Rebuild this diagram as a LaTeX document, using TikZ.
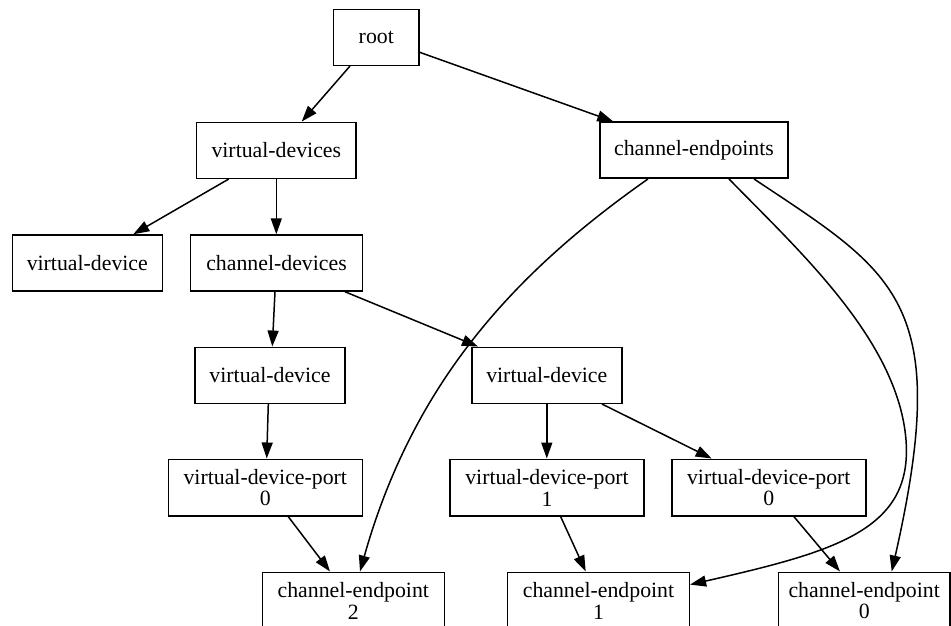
\documentclass[tikz,border=0pt]{standalone}
\usepackage{fontspec}
\setmainfont{Liberation Serif}
\usetikzlibrary{arrows.meta}
\begin{document}
\begin{tikzpicture}[x=1pt,y=-1pt,
  box/.style={draw, line width=1.5pt, rectangle, minimum height=56pt, inner sep=0pt, align=center, font=\fontsize{21.8}{21.8}\selectfont},
  box2/.style={box, minimum height=56.7pt},
  edge/.style={line width=1.5pt, -{Triangle[length=16pt,width=11pt]}}]
\useasboundingbox (0,0) rectangle (951,626);
% nodes
\node[box, minimum width=85.3pt]  (root) at (376.3,37.3)  {root};
\node[box, minimum width=159.3pt] (vds)  at (276.3,150.3) {virtual-devices};
\node[box, minimum width=188pt]   (cep)  at (694,150.2)   {channel-endpoints};
\node[box, minimum width=150pt]   (vdL)  at (87.3,263)    {virtual-device};
\node[box, minimum width=171.7pt] (chd)  at (276.5,263)   {channel-devices};
\node[box, minimum width=150pt]   (vdM)  at (270,375.3)   {virtual-device};
\node[box, minimum width=150pt]   (vdR)  at (546.8,375.3) {virtual-device};
\node[box2, minimum width=194pt]  (vdpL) at (265.3,487.6) {virtual-device-port\\0};
\node[box2, minimum width=194pt]  (vdp1) at (547,487.6)   {virtual-device-port\\1};
\node[box2, minimum width=194pt]  (vdpR) at (768.8,487.6) {virtual-device-port\\0};
\node[box2, minimum width=182pt]  (ce2)  at (353.3,600.6) {channel-endpoint\\2};
\node[box2, minimum width=181.7pt](ce1)  at (598.5,600.6) {channel-endpoint\\1};
\node[box2, minimum width=171.7pt](ce0)  at (864.2,600.6) {channel-endpoint\\0};
% edges
\draw[edge] ([xshift=-26.3pt]root.south) -- ([xshift=25.4pt]vds.north);
\draw[edge] ([yshift=-15pt]root.east) -- ([xshift=-80.7pt]cep.north);
\draw[edge] ([xshift=-47.6pt]vds.south) -- ([xshift=46pt]vdL.north);
\draw[edge] (vds.south) -- (vds.south |- chd.north);
\draw[edge] ([xshift=-1.5pt]chd.south) -- ([xshift=2.3pt]vdM.north);
\draw[edge] ([xshift=68.5pt]chd.south) -- ([xshift=-68.8pt]vdR.north);
\draw[edge] ([xshift=-1.7pt]vdM.south) -- ([xshift=1.4pt]vdpL.north);
\draw[edge] (vdR.south) -- (vdR.south |- vdp1.north);
\draw[edge] ([xshift=55.2pt]vdR.south) -- ([xshift=-57.1pt]vdpR.north);
\draw[edge] ([xshift=23pt]vdpL.south) -- ([xshift=-23.3pt]ce2.north);
\draw[edge] ([xshift=13.7pt]vdp1.south) -- ([xshift=-12.8pt]ce1.north);
\draw[edge] ([xshift=25.2pt]vdpR.south) -- ([xshift=-24.2pt]ce0.north);
\draw[edge] ([xshift=-46pt]cep.south) .. controls (517,271) and (414,380) .. ([xshift=6.7pt]ce2.north);
\draw[edge] ([xshift=35pt]cep.south) .. controls (798,250) and (898,340) .. (906,440)
  .. controls (913,530) and (835.5,551.5) .. ([yshift=16pt]ce1.east);
\draw[edge] ([xshift=60pt]cep.south) .. controls (895,273) and (953.3,300.4) .. ([xshift=27.5pt]ce0.north);
\end{tikzpicture}
\end{document}
